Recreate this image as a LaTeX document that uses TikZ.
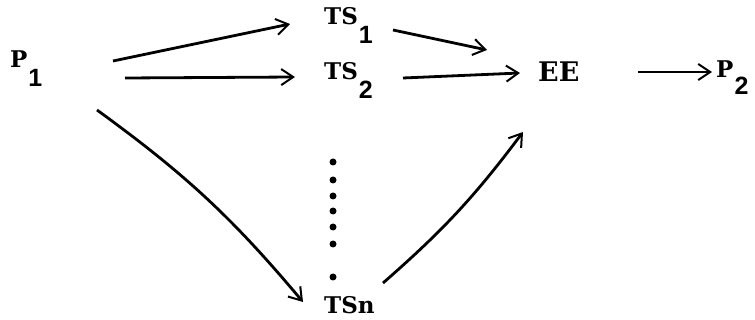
\documentclass[tikz,border=0pt]{standalone}
\usepackage{fontspec}
\setmainfont{DejaVu Serif}
\setsansfont{Liberation Sans}
\usetikzlibrary{arrows.meta}
% lowered subscript digit, set in a bold sans
\newcommand\lowidx[2][-19pt]{\kern1pt\raisebox{#1}{\fontsize{25}{25}\selectfont\sffamily\bfseries #2}}
\tikzset{
  lbl/.style={inner sep=0pt, anchor=base west, font=\fontsize{23}{23}\selectfont\bfseries},
  biglbl/.style={lbl, font=\fontsize{27}{27}\selectfont\bfseries},
  arr/.style={line width=2.8pt, -{Straight Barb[length=12pt,width=16pt,line width=2pt]}},
  dotmark/.style={fill=black}
}
\begin{document}
\begin{tikzpicture}[x=1pt,y=-1pt]
\useasboundingbox (0,0) rectangle (755,320);
% labels
\node[lbl] (P1)  at (10,68)   {P\lowidx{1}};
\node[lbl] (TS1) at (324,25) {TS\lowidx{1}};
\node[lbl] (TS2) at (324,80) {TS\lowidx{2}};
\node[biglbl] (EE)  at (538,82) {EE};
\node[lbl] (P2)  at (716,78) {P\lowidx[-17pt]{2}};
\node[lbl] (TSn) at (324,313) {TSn};
% vertical ellipsis between TS2 and TSn
\foreach \yy in {162,180,196,211,227,244,277}
  \fill[dotmark] (333,\yy) circle (3.5);
% connectors
\draw[arr] ([shift={(103,-7)}]P1.base west) -- ([shift={(-34,-1)}]TS1.base west);
\draw[arr] ([shift={(115,10)}]P1.base west) -- ([shift={(-29,-3)}]TS2.base west);
\draw[arr] ([shift={(69,5)}]TS1.base west) -- ([shift={(-51,-32)}]EE.base west);
\draw[arr] ([shift={(79,-2)}]TS2.base west) -- ([shift={(-18,-9)}]EE.base west);
\draw[arr] ([shift={(100,-10)}]EE.base west) -- ([shift={(-4,-6)}]P2.base west);
\draw[arr] ([shift={(87,42)}]P1.base west) to[bend left=7] ([shift={(-21,-11)}]TSn.base west);
\draw[arr] ([shift={(59,-30)}]TSn.base west) to[bend right=6] ([shift={(-15,50)}]EE.base west);
\end{tikzpicture}
\end{document}
